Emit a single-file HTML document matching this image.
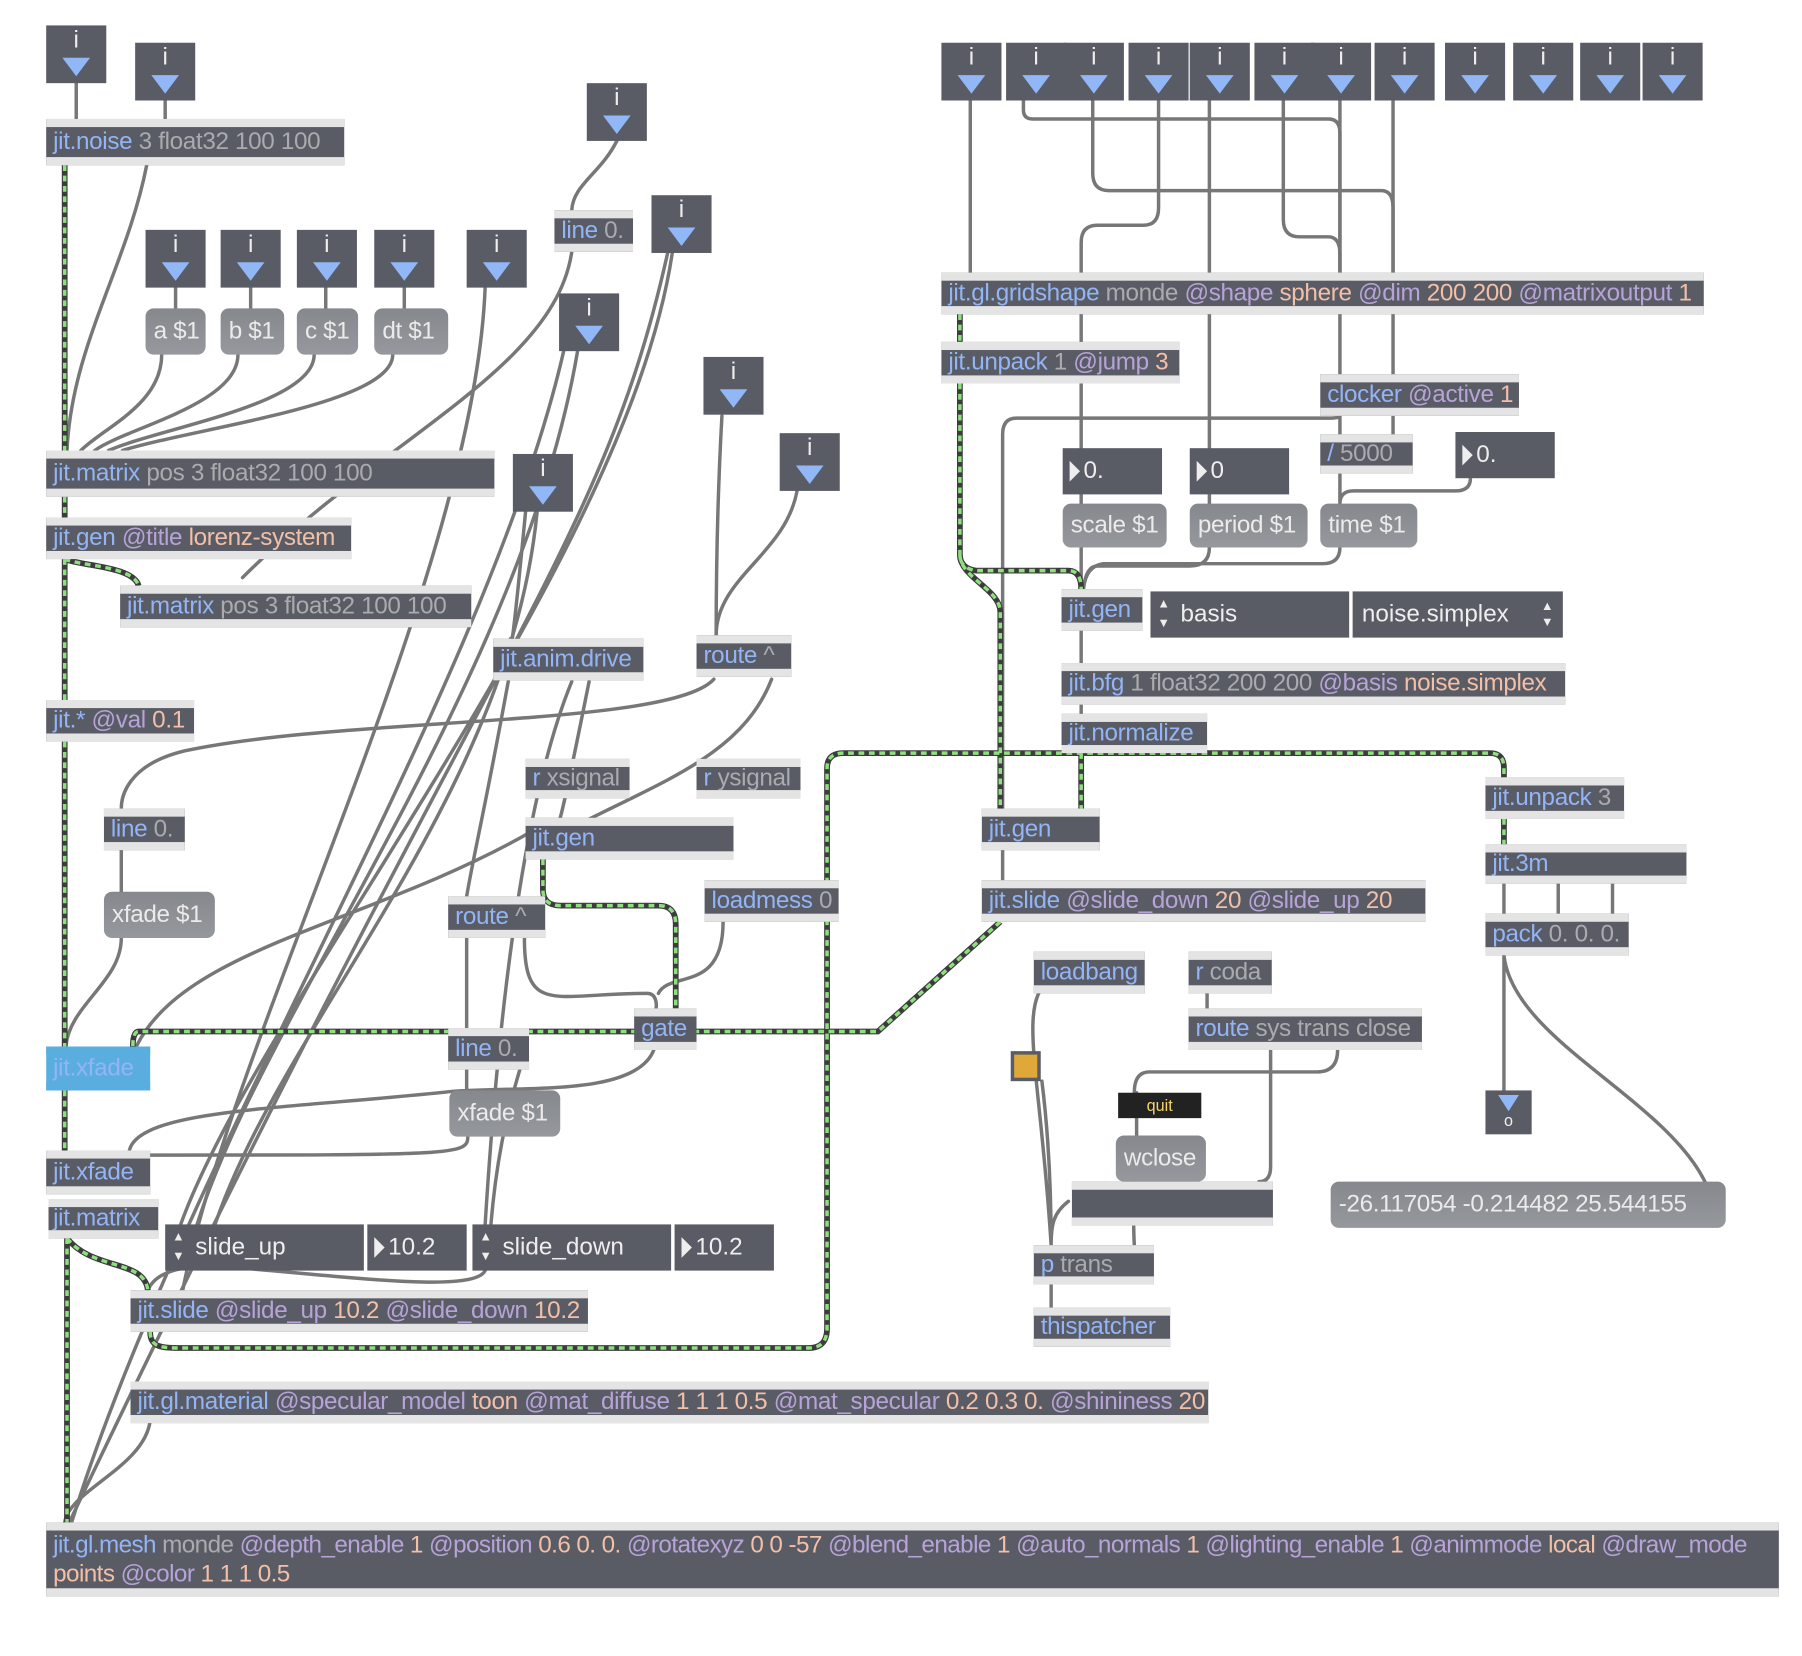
<!DOCTYPE html>
<html><head><meta charset="utf-8"><style>
html,body{margin:0;padding:0;background:#fff;width:1802px;height:1656px;overflow:hidden}
#w{position:absolute;left:0;top:0;width:1560px;height:1434px;transform:scale(1.1551);transform-origin:0 0;font-family:"Liberation Sans",sans-serif}
svg{position:absolute;left:0;top:0}
.o{position:absolute;box-sizing:border-box;background:#595c64;border-top:7px solid #e4e4e4;border-bottom:7px solid #e4e4e4;color:#a9abae;font-size:21px;letter-spacing:-0.3px;padding-left:6px;white-space:nowrap;overflow:hidden}
.c{color:#93b4f5}.a{color:#b8a3d8}.v{color:#f2bfa8}
.i{position:absolute;width:52px;height:50px;background:#595c64;color:#eee;font-size:21px;text-align:center}
.i b{display:block;font-weight:normal;line-height:26px}
.i i{position:absolute;left:14px;top:28px;width:0;height:0;border-left:12px solid transparent;border-right:12px solid transparent;border-top:16px solid #91b7f7}
.m{position:absolute;box-sizing:border-box;background:linear-gradient(#85888d,#95989c);border-radius:7px;color:#ebebeb;font-size:21px;letter-spacing:-0.3px;padding-left:7px;white-space:nowrap}
.n{position:absolute;box-sizing:border-box;background:#595c64;color:#eee;font-size:21px;padding-left:18px;white-space:nowrap}
.n:before{content:"";position:absolute;left:6px;top:50%;margin-top:-9px;border-top:9px solid transparent;border-bottom:9px solid transparent;border-left:9px solid #eee}
.p{position:absolute;box-sizing:border-box;background:#595c64;color:#eee;font-size:21px;padding-left:8px;white-space:nowrap}
.u{position:absolute;box-sizing:border-box;background:#595c64;color:#eee;font-size:21px;padding-left:26px;white-space:nowrap}
.u:before{content:"▲";position:absolute;left:6px;top:6px;font-size:11px;line-height:11px}
.u:after{content:"▼";position:absolute;left:6px;bottom:6px;font-size:11px;line-height:11px}
</style></head><body><div id="w">
<svg width="1560" height="1434" viewBox="0 0 1560 1434">
<g fill="none" stroke="#777" stroke-width="3" stroke-linecap="round">
<path d="M66 72V103M143 72V103"/>
<path d="M127 143C110 230 62 300 58 390"/>
<path d="M152 249V267M217 249V267M282 249V267M350 249V267"/>
<path d="M140 307C140 350 90 370 70 390M206 307C206 350 110 370 82 390M272 307C272 350 140 370 94 390M340 307C340 350 170 370 106 390"/>
<path d="M420 249C410 500 200 900 158 1118"/>
<path d="M495 218C480 320 330 380 210 500"/>
<path d="M534 122C520 150 496 160 495 182"/>
<path d="M582 219C540 500 200 900 150 1080"/>
<path d="M578 219C520 480 420 560 60 1318"/>
<path d="M500 304C450 600 210 900 165 1080"/>
<path d="M488 304C420 600 160 1000 62 1318"/>
<path d="M465 443C440 700 230 900 180 1080"/>
<path d="M455 443C440 600 442 553 442 553"/>
<path d="M440 590C420 700 410 740 404 776"/>
<path d="M495 590C450 700 430 900 420 1060"/>
<path d="M510 590C500 640 490 690 485 708"/>
<path d="M625 360C620 450 620 520 620 550"/>
<path d="M690 425C680 480 620 500 620 550"/>
<path d="M618 588C580 630 300 620 160 650C110 662 105 690 105 700"/>
<path d="M668 588C640 660 560 680 470 730"/>
<path d="M460 720C320 800 160 820 118 906"/>
<path d="M105 736V772M105 812C105 850 60 870 57 906"/>
<path d="M404 812V890M454 812C454 880 480 860 560 860C570 860 568 873 568 873M626 798C626 860 580 840 570 860"/>
<path d="M404 926V944M450 926C440 960 430 1000 425 1060M566 909C550 950 450 940 390 945C250 960 120 960 112 996"/>
<path d="M405 984C405 1000 395 1000 130 1000"/>
<path d="M420 1100C410 1120 300 1105 200 1097C160 1094 135 1100 128 1117"/>
<path d="M130 1230C125 1270 60 1290 56 1318"/>
<path d="M840 87V236"/>
<path d="M886 87V95Q886 103 894 103H1150Q1160 103 1160 115V324"/>
<path d="M946 87V150Q946 165 960 165H1196Q1206 165 1206 180V236"/>
<path d="M1003 87V180Q1003 195 990 195H950Q936 195 936 210V388"/>
<path d="M1047 87V388"/>
<path d="M1111 87V190Q1111 205 1125 205H1150Q1160 205 1160 220V236"/>
<path d="M1160 87V236M1206 87V376"/>
<path d="M1160 360V376M1160 360Q1160 362 1150 362H880Q868 362 868 376V700"/>
<path d="M1160 410V436M1273 414Q1273 425 1260 425H1172Q1160 425 1160 436"/>
<path d="M936 428V436M1047 428V436"/>
<path d="M936 474V510M1047 474Q1047 490 1030 490H950Q940 490 938 510M1160 474Q1160 488 1145 488H955Q940 490 938 510"/>
<path d="M936 546V574M936 610V618M868 736V762"/>
<path d="M910 846C880 870 900 920 910 1078M902 936C910 1000 910 1060 910 1078M984 983V946M984 983C984 1000 980 1040 982 1078M925 1040C912 1050 910 1060 910 1078"/>
<path d="M1045 860V873M1100 909V1010Q1100 1023 1090 1023M1158 909Q1158 928 1140 928H995Q982 928 982 946"/>
<path d="M910 1112V1132"/>
<path d="M1302 765V791M1349 765V791M1396 765V791"/>
<path d="M1302 827V944M1302 827C1310 900 1440 950 1476 1023"/>
</g>
<g fill="none" stroke="#3c3c3c" stroke-width="5">
<path id="g1" d="M56 143V390M56 430V448M56 484V606M56 484C70 490 115 490 120 507M56 642V906M56 944V996M58 1072V1318M58 1072C80 1100 125 1090 128 1117M130 1153C130 1167 140 1167 160 1167H700Q716 1167 716 1150V665Q716 652 730 652H1290Q1302 652 1302 665V673M936 652V700M1302 709V731M831 272V296M831 332V480Q831 492 845 494H925Q936 494 936 510M831 480C831 500 866 510 866 530V700M866 798L760 893H120Q115 893 115 906M470 744V770Q470 784 485 784H570Q585 784 585 800V873"/>
</g>
<use href="#g1" fill="none" stroke="#8ee07e" stroke-width="3" stroke-dasharray="5 4"/>
</svg>

<div class="i" style="left:40px;top:22px"><b>i</b><i></i></div>
<div class="i" style="left:117px;top:37px"><b>i</b><i></i></div>
<div class="o" style="left:40px;top:103px;width:258px;height:40px;line-height:26px"><span class="c">jit.noise</span> 3 float32 100 100</div>
<div class="i" style="left:126px;top:199px"><b>i</b><i></i></div>
<div class="i" style="left:191px;top:199px"><b>i</b><i></i></div>
<div class="i" style="left:257px;top:199px"><b>i</b><i></i></div>
<div class="i" style="left:324px;top:199px"><b>i</b><i></i></div>
<div class="i" style="left:404px;top:199px"><b>i</b><i></i></div>
<div class="m" style="left:126px;top:267px;width:52px;height:40px;line-height:40px">a $1</div>
<div class="m" style="left:191px;top:267px;width:55px;height:40px;line-height:40px">b $1</div>
<div class="m" style="left:257px;top:267px;width:53px;height:40px;line-height:40px">c $1</div>
<div class="m" style="left:324px;top:267px;width:64px;height:40px;line-height:40px">dt $1</div>
<div class="i" style="left:508px;top:72px"><b>i</b><i></i></div>
<div class="o" style="left:480px;top:182px;width:68px;height:36px;line-height:22px"><span class="c">line</span> 0.</div>
<div class="i" style="left:564px;top:169px"><b>i</b><i></i></div>
<div class="i" style="left:484px;top:254px"><b>i</b><i></i></div>
<div class="i" style="left:609px;top:309px"><b>i</b><i></i></div>
<div class="i" style="left:675px;top:375px"><b>i</b><i></i></div>
<div class="i" style="left:444px;top:393px"><b>i</b><i></i></div>
<div class="o" style="left:40px;top:390px;width:388px;height:40px;line-height:26px"><span class="c">jit.matrix</span> pos 3 float32 100 100</div>
<div class="o" style="left:40px;top:448px;width:264px;height:36px;line-height:22px"><span class="c">jit.gen</span> <span class="a">@title</span> <span class="v">lorenz-system</span></div>
<div class="o" style="left:104px;top:507px;width:304px;height:36px;line-height:22px"><span class="c">jit.matrix</span> pos 3 float32 100 100</div>
<div class="o" style="left:40px;top:606px;width:128px;height:36px;line-height:22px"><span class="c">jit.*</span> <span class="a">@val</span> <span class="v">0.1</span></div>
<div class="o" style="left:90px;top:700px;width:70px;height:36px;line-height:22px"><span class="c">line</span> 0.</div>
<div class="m" style="left:90px;top:772px;width:96px;height:40px;line-height:40px">xfade $1</div>
<div class="o" style="left:40px;top:906px;width:90px;height:38px;line-height:24px;background:#5aaedf;border-color:#5aaedf"><span class="c">jit.xfade</span></div>
<div class="o" style="left:40px;top:996px;width:90px;height:38px;line-height:24px"><span class="c">jit.xfade</span></div>
<div class="o" style="left:42px;top:1038px;width:95px;height:34px;line-height:20px;padding-left:4px"><span class="c">jit.matrix</span></div>
<div class="u" style="left:143px;top:1060px;width:172px;height:40px;line-height:40px">slide_up</div>
<div class="n" style="left:318px;top:1060px;width:86px;height:40px;line-height:40px">10.2</div>
<div class="u" style="left:409px;top:1060px;width:172px;height:40px;line-height:40px">slide_down</div>
<div class="n" style="left:584px;top:1060px;width:86px;height:40px;line-height:40px">10.2</div>
<div class="o" style="left:113px;top:1117px;width:396px;height:36px;line-height:22px"><span class="c">jit.slide</span> <span class="a">@slide_up</span> <span class="v">10.2</span> <span class="a">@slide_down</span> <span class="v">10.2</span></div>
<div class="o" style="left:113px;top:1196px;width:933px;height:36px;line-height:22px"><span class="c">jit.gl.material</span> <span class="a">@specular_model</span> <span class="v">toon</span> <span class="a">@mat_diffuse</span> <span class="v">1 1 1 0.5</span> <span class="a">@mat_specular</span> <span class="v">0.2 0.3 0.</span> <span class="a">@shininess</span> <span class="v">20</span></div>
<div class="o" style="left:40px;top:1318px;width:1500px;height:64px;line-height:25px;letter-spacing:-0.5px"><span class="c">jit.gl.mesh</span> monde <span class="a">@depth_enable</span> <span class="v">1</span> <span class="a">@position</span> <span class="v">0.6 0. 0.</span> <span class="a">@rotatexyz</span> <span class="v">0 0 -57</span> <span class="a">@blend_enable</span> <span class="v">1</span> <span class="a">@auto_normals</span> <span class="v">1</span> <span class="a">@lighting_enable</span> <span class="v">1</span> <span class="a">@animmode</span> <span class="v">local</span> <span class="a">@draw_mode</span><br><span class="v">points</span> <span class="a">@color</span> <span class="v">1 1 1 0.5</span></div>
<div class="o" style="left:427px;top:553px;width:130px;height:36px;line-height:22px"><span class="c">jit.anim.drive</span></div>
<div class="o" style="left:603px;top:550px;width:82px;height:36px;line-height:22px"><span class="c">route</span> ^</div>
<div class="o" style="left:455px;top:657px;width:90px;height:34px;line-height:20px"><span class="c">r</span> xsignal</div>
<div class="o" style="left:603px;top:657px;width:90px;height:34px;line-height:20px"><span class="c">r</span> ysignal</div>
<div class="o" style="left:455px;top:708px;width:180px;height:36px;line-height:22px"><span class="c">jit.gen</span></div>
<div class="o" style="left:388px;top:776px;width:84px;height:36px;line-height:22px"><span class="c">route</span> ^</div>
<div class="o" style="left:610px;top:762px;width:116px;height:36px;line-height:22px"><span class="c">loadmess</span> 0</div>
<div class="o" style="left:549px;top:873px;width:54px;height:36px;line-height:22px"><span class="c">gate</span></div>
<div class="o" style="left:388px;top:890px;width:70px;height:36px;line-height:22px"><span class="c">line</span> 0.</div>
<div class="m" style="left:389px;top:944px;width:96px;height:40px;line-height:40px">xfade $1</div>

<div class="i" style="left:815px;top:37px"><b>i</b><i></i></div>
<div class="i" style="left:871px;top:37px"><b>i</b><i></i></div>
<div class="i" style="left:921px;top:37px"><b>i</b><i></i></div>
<div class="i" style="left:977px;top:37px"><b>i</b><i></i></div>
<div class="i" style="left:1030px;top:37px"><b>i</b><i></i></div>
<div class="i" style="left:1086px;top:37px"><b>i</b><i></i></div>
<div class="i" style="left:1135px;top:37px"><b>i</b><i></i></div>
<div class="i" style="left:1190px;top:37px"><b>i</b><i></i></div>
<div class="i" style="left:1251px;top:37px"><b>i</b><i></i></div>
<div class="i" style="left:1310px;top:37px"><b>i</b><i></i></div>
<div class="i" style="left:1368px;top:37px"><b>i</b><i></i></div>
<div class="i" style="left:1422px;top:37px"><b>i</b><i></i></div>
<div class="o" style="left:815px;top:236px;width:660px;height:36px;line-height:22px"><span class="c">jit.gl.gridshape</span> monde <span class="a">@shape</span> <span class="v">sphere</span> <span class="a">@dim</span> <span class="v">200 200</span> <span class="a">@matrixoutput</span> <span class="v">1</span></div>
<div class="o" style="left:815px;top:296px;width:206px;height:36px;line-height:22px"><span class="c">jit.unpack</span> 1 <span class="a">@jump</span> <span class="v">3</span></div>
<div class="o" style="left:1143px;top:324px;width:172px;height:36px;line-height:22px"><span class="c">clocker</span> <span class="a">@active</span> <span class="v">1</span></div>
<div class="o" style="left:1143px;top:376px;width:80px;height:34px;line-height:20px"><span class="c">/</span> 5000</div>
<div class="n" style="left:920px;top:388px;width:86px;height:40px;line-height:40px">0.</div>
<div class="n" style="left:1030px;top:388px;width:86px;height:40px;line-height:40px">0</div>
<div class="n" style="left:1260px;top:374px;width:86px;height:40px;line-height:40px">0.</div>
<div class="m" style="left:920px;top:436px;width:90px;height:38px;line-height:38px">scale $1</div>
<div class="m" style="left:1030px;top:436px;width:102px;height:38px;line-height:38px">period $1</div>
<div class="m" style="left:1143px;top:436px;width:84px;height:38px;line-height:38px">time $1</div>
<div class="o" style="left:919px;top:510px;width:70px;height:36px;line-height:22px"><span class="c">jit.gen</span></div>
<div class="u" style="left:996px;top:512px;width:172px;height:40px;line-height:40px">basis</div>
<div class="p" style="left:1171px;top:512px;width:182px;height:40px;line-height:40px">noise.simplex<span style="position:absolute;right:8px;top:6px;font-size:11px;line-height:14px">▲<br>▼</span></div>
<div class="o" style="left:919px;top:574px;width:436px;height:36px;line-height:22px"><span class="c">jit.bfg</span> 1 float32 200 200 <span class="a">@basis</span> <span class="v">noise.simplex</span></div>
<div class="o" style="left:919px;top:618px;width:126px;height:34px;line-height:20px"><span class="c">jit.normalize</span></div>
<div class="o" style="left:850px;top:700px;width:102px;height:36px;line-height:22px"><span class="c">jit.gen</span></div>
<div class="o" style="left:850px;top:762px;width:384px;height:36px;line-height:22px"><span class="c">jit.slide</span> <span class="a">@slide_down</span> <span class="v">20</span> <span class="a">@slide_up</span> <span class="v">20</span></div>
<div class="o" style="left:1286px;top:673px;width:120px;height:36px;line-height:22px"><span class="c">jit.unpack</span> 3</div>
<div class="o" style="left:1286px;top:731px;width:174px;height:34px;line-height:20px"><span class="c">jit.3m</span></div>
<div class="o" style="left:1286px;top:791px;width:124px;height:36px;line-height:22px"><span class="c">pack</span> 0. 0. 0.</div>
<div style="position:absolute;left:1286px;top:944px;width:40px;height:38px;background:#595c64;color:#eee;font-size:14px;text-align:center"><div style="margin:4px auto 0;width:0;height:0;border-left:9px solid transparent;border-right:9px solid transparent;border-top:14px solid #91b7f7"></div>o</div>
<div class="m" style="left:1152px;top:1023px;width:342px;height:40px;line-height:40px">-26.117054 -0.214482 25.544155</div>
<div class="o" style="left:895px;top:824px;width:96px;height:36px;line-height:22px"><span class="c">loadbang</span></div>
<div class="o" style="left:1029px;top:824px;width:72px;height:36px;line-height:22px"><span class="c">r</span> coda</div>
<div class="o" style="left:1029px;top:873px;width:202px;height:36px;line-height:22px"><span class="c">route</span> sys trans close</div>
<div style="position:absolute;left:875px;top:910px;width:26px;height:26px;background:#595c64"><div style="margin:3px;width:20px;height:20px;background:#e0a838"></div></div>
<div style="position:absolute;left:968px;top:946px;width:72px;height:22px;background:#222;color:#f5d76e;font-size:14px;text-align:center;line-height:22px">quit</div>
<div class="m" style="left:966px;top:983px;width:78px;height:40px;line-height:40px">wclose</div>
<div class="o" style="left:928px;top:1023px;width:174px;height:38px"></div>
<div class="o" style="left:895px;top:1078px;width:104px;height:34px;line-height:20px"><span class="c">p</span> trans</div>
<div class="o" style="left:895px;top:1132px;width:118px;height:34px;line-height:20px"><span class="c">thispatcher</span></div>
</div></body></html>
